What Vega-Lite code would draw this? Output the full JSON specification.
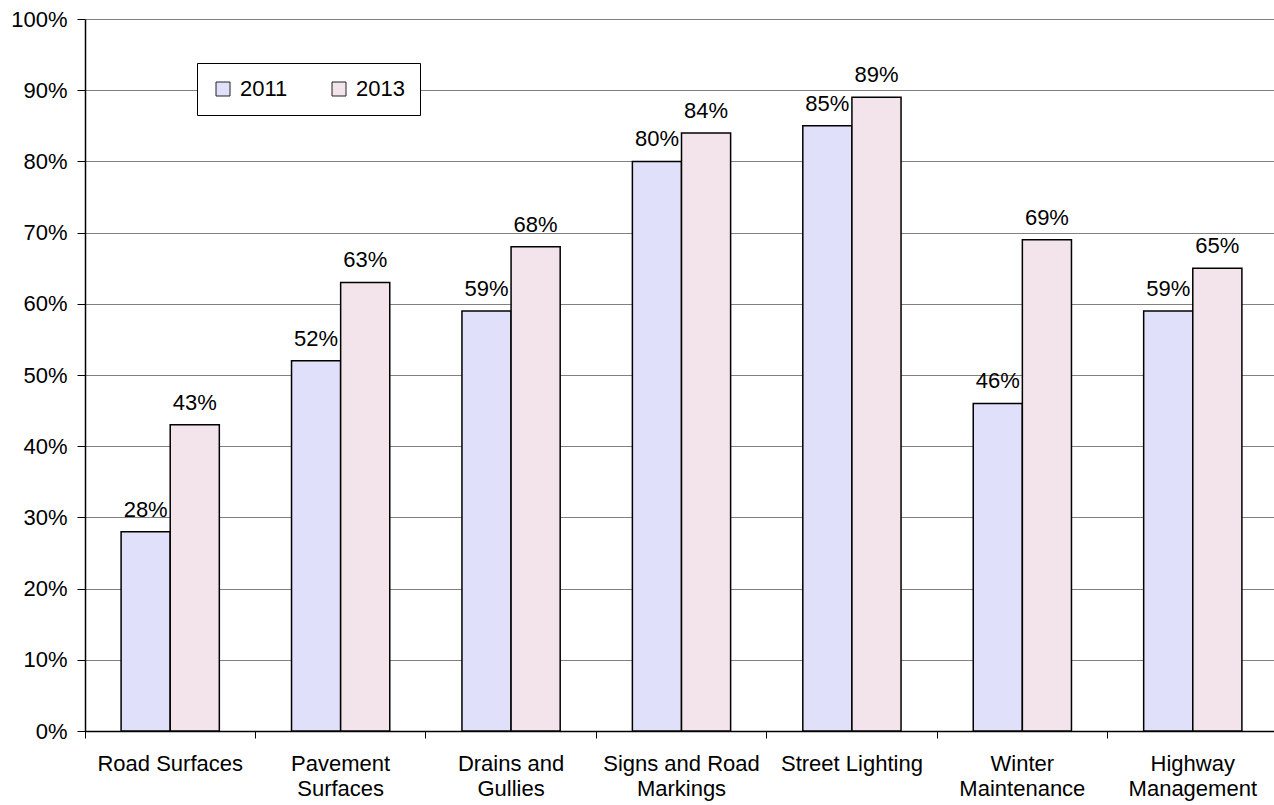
{
  "$schema": "https://vega.github.io/schema/vega-lite/v6.json",
  "width": 1189,
  "height": 712,
  "autosize": "none",
  "padding": {"left": 85, "top": 19, "right": 0, "bottom": 74},
  "background": "white",
  "config": {
    "font": "Liberation Sans",
    "view": {"stroke": null},
    "axis": {"labelFont": "Liberation Sans", "labelColor": "black", "labelFontSize": 22, "domainColor": "black", "tickColor": "black", "title": null}
  },
  "data": {
    "values": [
      {"category": "Road Surfaces", "year": "2011", "value": 0.28},
      {"category": "Road Surfaces", "year": "2013", "value": 0.43},
      {"category": "Pavement|Surfaces", "year": "2011", "value": 0.52},
      {"category": "Pavement|Surfaces", "year": "2013", "value": 0.63},
      {"category": "Drains and|Gullies", "year": "2011", "value": 0.59},
      {"category": "Drains and|Gullies", "year": "2013", "value": 0.68},
      {"category": "Signs and Road|Markings", "year": "2011", "value": 0.80},
      {"category": "Signs and Road|Markings", "year": "2013", "value": 0.84},
      {"category": "Street Lighting", "year": "2011", "value": 0.85},
      {"category": "Street Lighting", "year": "2013", "value": 0.89},
      {"category": "Winter|Maintenance", "year": "2011", "value": 0.46},
      {"category": "Winter|Maintenance", "year": "2013", "value": 0.69},
      {"category": "Highway|Management", "year": "2011", "value": 0.59},
      {"category": "Highway|Management", "year": "2013", "value": 0.65}
    ]
  },
  "resolve": {"axis": {"x": "independent", "y": "shared"}},
  "layer": [
    {
      "mark": {"type": "bar", "stroke": "black", "strokeWidth": 1.5},
      "encoding": {
        "x": {
          "field": "category", "type": "nominal", "sort": null,
          "scale": {"range": [0, 1193], "paddingInner": 0, "paddingOuter": 0},
          "axis": {"orient": "bottom", "labelAngle": 0, "ticks": false, "domain": true, "domainWidth": 1.5, "labelPadding": 22, "labelBaseline": "top", "labelLineHeight": 25, "labelExpr": "split(datum.value, '|')", "labelLimit": 0}
        },
        "xOffset": {"field": "year", "type": "nominal", "scale": {"paddingInner": 0, "paddingOuter": 0.735}},
        "y": {
          "field": "value", "type": "quantitative",
          "scale": {"domain": [0, 1]},
          "axis": {"format": ".0%", "values": [0,0.1,0.2,0.3,0.4,0.5,0.6,0.7,0.8,0.9,1], "grid": true, "gridColor": "#808080", "gridWidth": 1.2, "tickSize": 8, "labelPadding": 10, "domainWidth": 1.5}
        },
        "color": {
          "field": "year", "type": "nominal",
          "scale": {"range": ["#E0E0FA", "#F2E4EA"]},
          "legend": {"title": null, "orient": "none", "legendX": 112, "legendY": 44, "direction": "horizontal", "fillColor": "white", "strokeColor": "black", "padding": 15, "symbolType": "square", "symbolSize": 196, "symbolStrokeColor": "#222", "symbolStrokeWidth": 1, "symbolOpacity": 1, "labelFontSize": 22, "labelFont": "Liberation Sans", "labelColor": "black", "labelOffset": 6, "columnPadding": 40}
        }
      }
    },
    {
      "mark": {"type": "text", "baseline": "alphabetic", "dy": -15, "fontSize": 22, "font": "Liberation Sans", "color": "black"},
      "encoding": {
        "x": {
          "field": "category", "type": "nominal", "sort": null,
          "axis": {"orient": "bottom", "labels": false, "ticks": true, "tickSize": 7, "bandPosition": 0, "domain": false, "grid": false}
        },
        "xOffset": {"field": "year", "type": "nominal"},
        "y": {"field": "value", "type": "quantitative"},
        "text": {"field": "value", "type": "quantitative", "format": ".0%"}
      }
    }
  ]
}
